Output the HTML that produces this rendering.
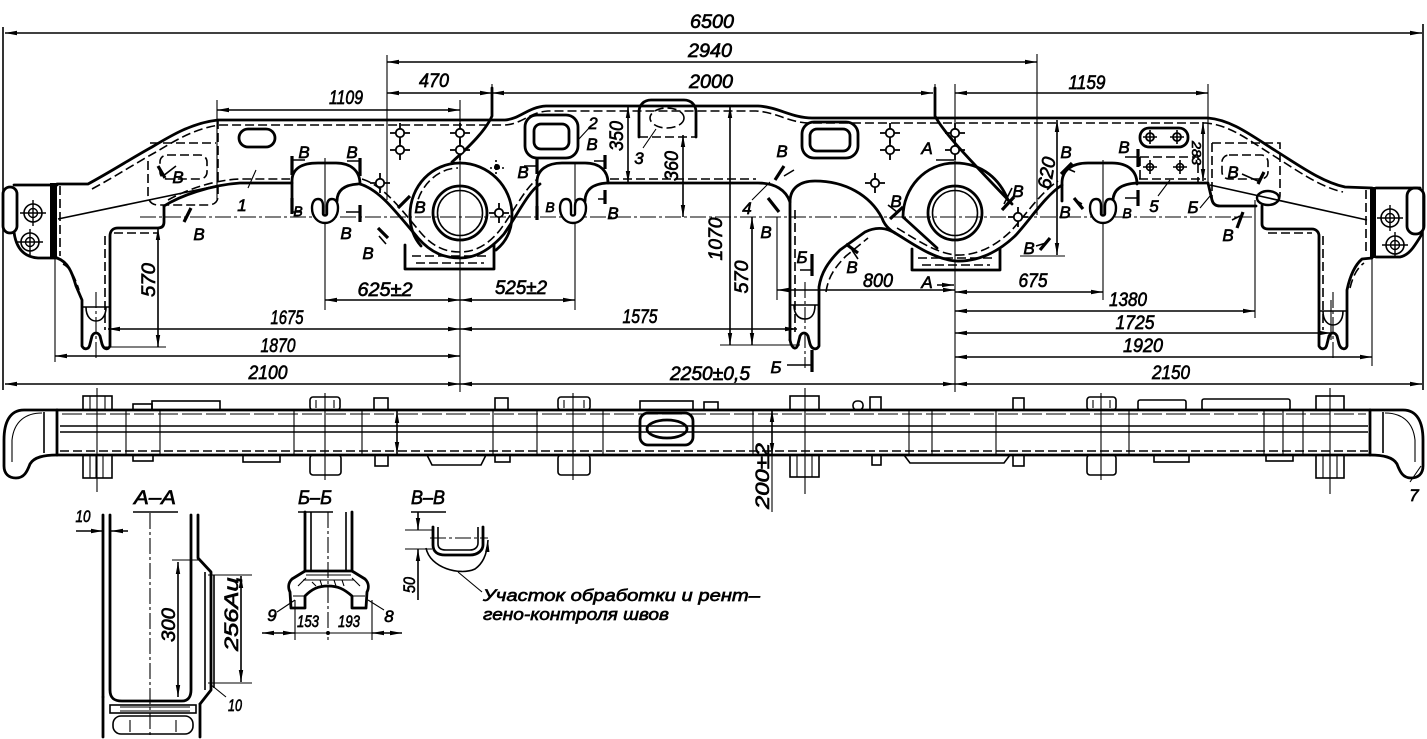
<!DOCTYPE html>
<html><head><meta charset="utf-8"><style>
html,body{margin:0;padding:0;background:#fff}
svg{display:block}
.t{fill:none;stroke:#000;stroke-width:2.8;stroke-linejoin:round;stroke-linecap:round}
.k{fill:none;stroke:#000;stroke-width:3.2;stroke-linecap:butt}
.m{fill:none;stroke:#000;stroke-width:1.6}
.n{fill:none;stroke:#000;stroke-width:1.1}
.d{fill:none;stroke:#000;stroke-width:1.6;stroke-dasharray:9 4}
.c{fill:none;stroke:#000;stroke-width:1.1;stroke-dasharray:16 3 3 3}
.dim{fill:none;stroke:#000;stroke-width:1.6;marker-start:url(#a);marker-end:url(#a)}
.ar{fill:none;stroke:#000;stroke-width:1.6;marker-end:url(#a)}
text{font-family:"Liberation Sans Narrow","Liberation Sans",sans-serif;font-style:italic;font-size:19px;fill:#000;stroke:#000;stroke-width:0.65}
.s{font-size:17px}
</style></head><body>
<svg width="1427" height="739" viewBox="0 0 1427 739" xmlns="http://www.w3.org/2000/svg" xmlns:xlink="http://www.w3.org/1999/xlink">
<defs>
<marker id="a" viewBox="0 0 12 6" refX="12" refY="3" markerWidth="12" markerHeight="6" markerUnits="userSpaceOnUse" orient="auto-start-reverse"><path d="M0 0.8L12 3L0 5.2z"/></marker>
<g id="ch"><circle r="4.2" fill="#fff" stroke="#000" stroke-width="1.8"/><path d="M-10 0H-4.2M4.2 0H10M0-10V-4.2M0 4.2V10" stroke="#000" stroke-width="1.8"/></g>
<g id="ec"><circle r="9" fill="none" stroke="#000" stroke-width="1.6"/><circle r="4.5" fill="none" stroke="#000" stroke-width="1.4"/><path d="M-13 0H13M0-13V13" stroke="#000" stroke-width="1.4"/></g>
<path id="hs" d="M-2 13 L-2 5 C-2 0 -4 -2 -7 -2 C-11 -2 -13 2 -13 7 C-13 16 -7 22 0 22 C7 22 13 16 13 7 C13 2 11 -2 7 -2 C4 -2 2 0 2 5 L2 13 C2 15 -2 15 -2 13 Z" fill="#fff" stroke="#000" stroke-width="2.4"/>
<g id="hook">
<path class="t" d="M57 410 L24 410 C10 410 4 422 4 440 L4 466 C4 474 9 478 16 478 C24 478 27 472 30 464 C34 457 44 455 57 455"/>
<path class="t" d="M57 410V455"/>
<path class="m" d="M44 412V453"/>
<path class="n" d="M42 413 C26 413 14 421 12 440 L12 462"/>
</g>
</defs>
<rect width="1427" height="739" fill="#fff"/>

<!-- ============ TOP DIMENSIONS ============ -->
<path class="m" d="M3 27V390" stroke-width="2"/>
<path class="m" d="M1423 24V390" stroke-width="2"/>
<path class="dim" d="M5 33H1422"/>
<text x="712" y="28" text-anchor="middle" textLength="44" lengthAdjust="spacingAndGlyphs">6500</text>
<path class="dim" d="M387 62H1037"/>
<text x="710" y="57" text-anchor="middle" textLength="44" lengthAdjust="spacingAndGlyphs">2940</text>
<path class="dim" d="M387 93H492"/>
<path class="dim" d="M492 93H933"/>
<text x="434" y="87" text-anchor="middle" textLength="30" lengthAdjust="spacingAndGlyphs">470</text>
<text x="711" y="88" text-anchor="middle" textLength="44" lengthAdjust="spacingAndGlyphs">2000</text>
<path class="dim" d="M217 110H460"/>
<text x="346" y="104" text-anchor="middle" textLength="34" lengthAdjust="spacingAndGlyphs">1109</text>
<path class="dim" d="M955 93H1208"/>
<text x="1087" y="89" text-anchor="middle" textLength="37" lengthAdjust="spacingAndGlyphs">1159</text>

<!-- extension lines -->
<path class="n" d="M387 55V200 M492 84V116 M935 84V116 M1037 54V215 M1208 84V185 M217 100V200 M460 100V392 M955 84V392 M325 158V310 M575 163V310 M1103 160V300 M1255 200V318 M1331 300V340 M1372 258V366 M55 258V362 M105 347H166 M720 345H800 M1020 256H1065 M777 217V300"/>
<path class="c" d="M140 217H1252"/>
<path class="c" d="M96 292V358 M805 282V368 M1333 292V358"/>

<!-- ============ BOTTOM DIMENSIONS ============ -->
<path class="dim" d="M325 300H460"/>
<text x="385" y="296" text-anchor="middle" textLength="55" lengthAdjust="spacingAndGlyphs">625±2</text>
<path class="dim" d="M460 300H575"/>
<text x="521" y="294" text-anchor="middle" textLength="52" lengthAdjust="spacingAndGlyphs">525±2</text>
<path class="dim" d="M108 329H460"/>
<text x="287" y="324" text-anchor="middle" textLength="33" lengthAdjust="spacingAndGlyphs">1675</text>
<path class="dim" d="M460 329H797"/>
<text x="640" y="323" text-anchor="middle" textLength="35" lengthAdjust="spacingAndGlyphs">1575</text>
<path class="dim" d="M55 356H460"/>
<text x="278" y="352" text-anchor="middle" textLength="35" lengthAdjust="spacingAndGlyphs">1870</text>
<path class="dim" d="M5 384H460"/>
<text x="268" y="379" text-anchor="middle" textLength="39" lengthAdjust="spacingAndGlyphs">2100</text>
<path class="dim" d="M460 384H955"/>
<text x="710" y="380" text-anchor="middle" textLength="80" lengthAdjust="spacingAndGlyphs">2250±0,5</text>
<path class="dim" d="M955 384H1422"/>
<text x="1171" y="379" text-anchor="middle" textLength="38" lengthAdjust="spacingAndGlyphs">2150</text>
<path class="dim" d="M955 292H1103"/>
<text x="1033" y="287" text-anchor="middle" textLength="29" lengthAdjust="spacingAndGlyphs">675</text>
<path class="dim" d="M955 311H1255"/>
<text x="1128" y="306" text-anchor="middle" textLength="38" lengthAdjust="spacingAndGlyphs">1380</text>
<path class="dim" d="M955 333H1331"/>
<text x="1135" y="329" text-anchor="middle" textLength="39" lengthAdjust="spacingAndGlyphs">1725</text>
<path class="dim" d="M955 357H1372"/>
<text x="1143" y="352" text-anchor="middle" textLength="40" lengthAdjust="spacingAndGlyphs">1920</text>
<path class="dim" d="M777 290H955"/>
<text x="878" y="287" text-anchor="middle" textLength="30" lengthAdjust="spacingAndGlyphs">800</text>

<!-- vertical dims -->
<path class="dim" d="M158 228V347"/>
<text transform="translate(155,280) rotate(-90)" text-anchor="middle" textLength="34" lengthAdjust="spacingAndGlyphs">570</text>
<path class="dim" d="M730 106V345"/>
<text transform="translate(722,239) rotate(-90)" text-anchor="middle" textLength="43" lengthAdjust="spacingAndGlyphs">1070</text>
<path class="dim" d="M752 217V345"/>
<text transform="translate(748,277) rotate(-90)" text-anchor="middle" textLength="33" lengthAdjust="spacingAndGlyphs">570</text>
<path class="dim" d="M628 106V183"/>
<text transform="translate(623,136) rotate(-90)" text-anchor="middle" textLength="30" lengthAdjust="spacingAndGlyphs">350</text>
<path class="dim" d="M683 135V217"/>
<text transform="translate(678,166) rotate(-90)" text-anchor="middle" textLength="30" lengthAdjust="spacingAndGlyphs">360</text>
<path class="dim" d="M1057 120V255"/>
<text transform="translate(1053,174) rotate(-80)" text-anchor="middle" textLength="32" lengthAdjust="spacingAndGlyphs">620</text>
<path class="dim" d="M1203 122V181"/>
<text transform="translate(1192,153) rotate(90)" text-anchor="middle" style="font-size:13px" textLength="24" lengthAdjust="spacingAndGlyphs">283</text>

<!-- ============ MAIN FRAME (SIDE VIEW) ============ -->
<path class="t" d="M57 184 L88 184 C112 171 132 158 152 147 C172 135 192 123 218 120 L505 120 C520 119 528 107 546 106 L758 106 C778 107 792 118 812 118 L1208 118 C1232 120 1252 136 1276 151 C1300 166 1322 182 1345 187 L1372 188"/>
<path class="d" d="M92 189 C116 176 136 163 156 152 C176 140 196 128 220 125 L505 125 C522 124 530 112 548 111 L756 111 C776 112 790 123 810 123 L1206 123 C1230 125 1250 141 1274 156 C1298 171 1320 187 1343 192"/>

<!-- left end -->
<rect x="50" y="183" width="7" height="76" fill="#000"/>
<path class="d" d="M60 186V256"/>
<path class="t" d="M57 185 L14 185 M14 232 C16 248 24 257 38 258 L57 258"/>
<rect class="t" x="3" y="187" width="14" height="46" rx="7"/>
<use xlink:href="#ec" x="33" y="213"/>
<use xlink:href="#ec" x="30" y="242"/>
<path class="m" d="M58 219 L216 186"/>
<path class="t" d="M57 258 C68 262 72 272 76 286 L82 300 L82 346 C84 350 89 350 90 344 L92 336 C94 332 98 332 100 336 L102 344 C104 350 108 350 110 346 L110 236 C110 231 113 228 118 228 L158 228 C162 228 164 226 164 222 L164 206"/>
<path class="d" d="M63 264 C71 268 75 278 79 290 M105 236V330 M114 233H158"/>
<path class="m" d="M83 307H109 M86 307 C86 318 92 321 96 321 C100 321 106 318 106 307"/>
<path class="t" d="M164 206 C180 196 210 185 240 183 L292 183"/>
<path class="d" d="M168 200 C184 191 212 180 240 179 L290 179"/>
<path class="d" d="M150 143H216 M218 120V196 C218 202 214 205 208 205 L158 205 C152 205 148 201 148 195 L148 160"/>
<rect class="d" x="160" y="155" width="47" height="24" rx="7"/>
<rect class="t" x="239" y="129" width="36" height="18" rx="9"/>
<path class="t" d="M292 201 L292 181 C292 169 301 163 318 163 L336 163 C351 163 360 171 360 184"/>
<path class="t" d="M337 201 C337 192 342 185 358 184"/>
<use xlink:href="#hs" x="325" y="201"/>
<path class="t" d="M360 184 C380 190 396 212 418 238 C432 254 446 258 460 258 C476 258 490 250 504 234 C518 214 528 192 540 184"/>
<path class="d" d="M362 179 C384 186 400 208 421 233 C434 248 447 252 460 252 C474 252 487 246 500 230 C514 211 524 190 536 180"/>
<path class="t" d="M410 215 C410 186 432 163 460 163 C488 163 512 186 512 215 C512 230 506 242 496 250"/>
<path class="t" d="M410 215 C410 228 414 238 421 246"/>
<path class="d" d="M416 212 C416 190 436 168 458 168"/>
<path class="t" d="M492 88 L492 116 C486 130 470 146 452 162"/>
<circle cx="460" cy="213" r="27" fill="none" stroke="#000" stroke-width="2.8"/>
<circle cx="460" cy="213" r="22.5" fill="none" stroke="#000" stroke-width="1.6"/>
<path class="t" d="M405 245 L405 269 L494 269 L494 245"/>
<path class="d" d="M412 256H488 M416 263H484"/>
<use xlink:href="#ch" x="400" y="133"/>
<use xlink:href="#ch" x="400" y="150"/>
<use xlink:href="#ch" x="460" y="133"/>
<use xlink:href="#ch" x="460" y="150"/>
<use xlink:href="#ch" x="380" y="183"/>
<use xlink:href="#ch" x="499" y="213"/>
<use xlink:href="#ch" x="890" y="133"/>
<use xlink:href="#ch" x="890" y="150"/>
<use xlink:href="#ch" x="955" y="133"/>
<use xlink:href="#ch" x="955" y="150"/>
<use xlink:href="#ch" x="875" y="183"/>
<use xlink:href="#ch" x="1018" y="217"/>
<path class="m" d="M496 160V175 M504 168H490" stroke-dasharray="2 2"/>
<circle cx="497" cy="167" r="3" fill="#000"/>
<rect class="t" x="525" y="115" width="53" height="43" rx="12"/>
<rect class="t" x="534" y="124" width="35" height="25" rx="7"/>
<path class="t" d="M537 217 L537 182 C537 170 547 163 562 163 L585 163 C600 163 608 171 608 183"/>
<path class="t" d="M585 201 C585 192 590 184 607 183"/>
<use xlink:href="#hs" x="573" y="201"/>
<path class="t" d="M639 137 L639 112 C639 105 644 100 651 100 L684 100 C691 100 696 105 696 112 L696 137"/>
<path class="d" d="M639 137 H696"/>
<ellipse class="d" cx="667" cy="118" rx="17" ry="10"/>
<path class="t" d="M608 183 L758 183 C775 183 786 190 790 202 L790 340"/>
<path class="d" d="M610 179 L756 179"/>
<path class="t" d="M790 340 C792 350 797 350 798 344 L800 336 C802 332 806 332 808 336 L810 344 C812 350 817 350 819 346 L819 287 C821 273 828 262 840 250 L865 232 C875 227 885 227 895 233"/>
<path class="d" d="M826 292 C828 278 834 268 846 256 L868 238 M795 210V332"/>
<path class="m" d="M791 305H818 M794 305 C794 316 800 319 805 319 C810 319 815 316 815 305"/>
<path class="t" d="M790 202 C790 188 800 181 815 181 C845 181 870 195 882 218 C884 224 888 229 895 233"/>
<rect class="t" x="802" y="122" width="56" height="36" rx="12"/>
<rect class="t" x="810" y="129" width="40" height="22" rx="7"/>
<path class="t" d="M903 217 C903 188 925 163 955 163 C983 163 1000 180 1008 200"/>
<path class="t" d="M903 217 L937 248"/>
<path class="t" d="M935 88 L935 116 C945 135 975 165 1012 204"/>
<circle cx="955" cy="213" r="27" fill="none" stroke="#000" stroke-width="2.8"/>
<circle cx="955" cy="213" r="22.5" fill="none" stroke="#000" stroke-width="1.6"/>
<path class="t" d="M912 249 L912 270 L1000 270 L1000 249"/>
<path class="d" d="M918 258H994 M922 265H990"/>
<path class="t" d="M895 233 C915 245 932 258 955 261 C978 262 998 252 1015 236 C1030 220 1045 196 1062 185"/>
<path class="d" d="M897 228 C917 240 934 252 955 255 C976 256 994 247 1010 232 C1025 216 1040 193 1058 181"/>
<path class="t" d="M1062 201 L1062 183 C1062 170 1072 163 1088 163 L1112 163 C1128 163 1137 171 1137 184"/>
<path class="t" d="M1113 201 C1113 192 1118 184 1137 183"/>
<use xlink:href="#hs" x="1103" y="201"/>
<path class="t" d="M1137 183 L1208 183 L1212 200 C1213 204 1216 206 1220 206 L1256 206"/>
<path class="d" d="M1139 179 L1206 179"/>
<ellipse cx="1268" cy="198" rx="11" ry="7" fill="#fff" stroke="#000" stroke-width="2.4"/>
<path class="t" d="M1262 206 L1262 224 C1262 227 1264 229 1268 229 L1312 229 C1316 229 1319 232 1319 236 L1319 346 C1321 350 1326 350 1327 344 L1329 336 C1331 332 1335 332 1337 336 L1339 344 C1341 350 1346 350 1347 346 L1347 290 C1350 276 1355 265 1362 259 L1372 258"/>
<path class="d" d="M1323 236V330 M1268 233H1312 M1350 288 C1353 276 1357 268 1364 263"/>
<path class="m" d="M1320 311H1346 M1323 311 C1323 322 1329 325 1333 325 C1337 325 1343 322 1343 311"/>
<path class="m" d="M1210 185 L1367 220"/>
<path class="d" d="M1212 143H1280 V195 C1280 201 1276 205 1270 205 M1212 143V200"/>
<rect class="d" x="1222" y="155" width="46" height="24" rx="7"/>
<rect class="t" x="1140" y="128" width="48" height="19" rx="9"/>
<circle cx="1150" cy="137" r="4" fill="#fff" stroke="#000" stroke-width="1.8"/>
<circle cx="1177" cy="137" r="4" fill="#fff" stroke="#000" stroke-width="1.8"/>
<path class="m" d="M1143 137H1157 M1170 137H1184 M1150 130V144 M1177 130V144"/>
<path class="d" d="M1140 157H1198 V182 M1140 157V182"/>
<circle cx="1150" cy="167" r="3.5" fill="#fff" stroke="#000" stroke-width="1.6"/>
<circle cx="1180" cy="167" r="3.5" fill="#fff" stroke="#000" stroke-width="1.6"/>
<path class="m" d="M1143 167H1157 M1173 167H1187 M1150 160V174 M1180 160V174"/>
<rect x="1370" y="187" width="6" height="71" fill="#000"/>
<path class="d" d="M1366 190V255"/>
<path class="t" d="M1376 188 L1420 188 M1376 257 L1400 257 C1410 255 1415 245 1422 234"/>
<rect class="t" x="1407" y="188" width="17" height="46" rx="8"/>
<use xlink:href="#ec" x="1390" y="218"/>
<use xlink:href="#ec" x="1395" y="245"/>

<path class="n" d="M248 188 L256 170 M578 140 L590 127 M643 148 L656 129 M752 200 L770 182 M1158 196 L1170 180 M1200 208 L1210 196"/>
<text x="242" y="211" text-anchor="middle" class="s">1</text>
<text x="593" y="129" text-anchor="middle" class="s">2</text>
<text x="639" y="164" text-anchor="middle" class="s">3</text>
<text x="747" y="214" text-anchor="middle" class="s">4</text>
<text x="1154" y="212" text-anchor="middle" class="s">5</text>

<g class="s">
<text x="178" y="183" text-anchor="middle" class="s">В</text>
<text x="199" y="240" text-anchor="middle" class="s">В</text>
<text x="304" y="158" text-anchor="middle" class="s">В</text>
<text x="352" y="158" text-anchor="middle" class="s">В</text>
<text x="298" y="216" text-anchor="middle" style="font-size:14px">В</text>
<text x="346" y="239" text-anchor="middle" class="s">В</text>
<text x="368" y="259" text-anchor="middle" class="s">В</text>
<text x="420" y="213" text-anchor="middle" class="s">В</text>
<text x="523" y="178" text-anchor="middle" class="s">В</text>
<text x="592" y="150" text-anchor="middle" class="s">В</text>
<text x="550" y="212" text-anchor="middle" style="font-size:14px">В</text>
<text x="613" y="219" text-anchor="middle" class="s">В</text>
<text x="782" y="157" text-anchor="middle" class="s">В</text>
<text x="766" y="238" text-anchor="middle" class="s">В</text>
<text x="852" y="273" text-anchor="middle" class="s">В</text>
<text x="896" y="207" text-anchor="middle" class="s">В</text>
<text x="1018" y="197" text-anchor="middle" class="s">В</text>
<text x="1065" y="218" text-anchor="middle" class="s">В</text>
<text x="1029" y="254" text-anchor="middle" class="s">В</text>
<text x="1066" y="158" text-anchor="middle" class="s">В</text>
<text x="1124" y="153" text-anchor="middle" class="s">В</text>
<text x="1127" y="218" text-anchor="middle" style="font-size:14px">В</text>
<text x="1233" y="178" text-anchor="middle" class="s">В</text>
<text x="1228" y="241" text-anchor="middle" class="s">В</text>
<text x="802" y="263" text-anchor="middle" class="s">Б</text>
<text x="776" y="373" text-anchor="middle" class="s">Б</text>
<text x="1193" y="213" text-anchor="middle" class="s">Б</text>
<text x="927" y="154" text-anchor="middle" class="s">А</text>
<text x="927" y="288" text-anchor="middle" class="s">А</text>
</g>
<path class="k" d="M158 166 L165 178 M292 156V175 M360 158V176 M292 198V214 M360 205V222 M378 228 L388 238 M398 208 L410 196 M537 158V174 M537 206V220 M605 155V169 M605 190V204 M775 180 L784 166 M768 198 L779 212 M846 244 L858 253 M890 219 L903 207 M1002 210 L1014 197 M1040 250 L1050 238 M1061 174 L1072 163 M1138 149V167 M1138 190V206 M1074 198 L1083 209 M1258 184 L1264 172 M1243 212 L1237 228 M812 254V276 M812 350V372 M191 208 L184 222"/>
<path class="ar" d="M176 166 L163 176 M305 160 H293 M347 161 H359 M302 212 H293 M346 212 H359 M386 244 L379 236 M524 166 H538 M594 161 H606 M598 199 H606 M794 170 L784 176 M858 259 L852 250 M888 205 L897 212 M1012 188 L1004 204 M1036 246 L1046 243 M1075 172 L1066 168 M1125 157 H1137 M1125 198 H1137 M1082 204 L1075 200 M1242 174 L1260 182 M1232 220 L1240 216 M800 270 H811 M787 365 H811 M936 160 H954 M937 285 H954"/>

<!-- ============ PLAN VIEW ============ -->
<path class="t" d="M57 410H1370 M57 455H1370"/>
<path class="m" d="M60 426H1368 M60 432H1368"/>
<path class="d" d="M60 451H1368" stroke-width="1.3"/>
<path class="n" d="M62 414H1366" stroke-dasharray="20 4"/>
<path class="n" d="M126 410V455 M160 410V455 M294 410V455 M362 410V455 M493 410V455 M537 410V455 M603 410V455 M753 410V455 M909 410V455 M932 410V455 M996 410V455 M1129 410V455 M1264 410V455 M1283 410V455 M1303 410V455"/>
<use xlink:href="#hook"/>
<use xlink:href="#hook" transform="translate(1427,0) scale(-1,1)"/>
<g class="m">
<rect x="83" y="396" width="29" height="14"/><rect x="83" y="455" width="29" height="23"/>
<rect x="790" y="396" width="29" height="14"/><rect x="790" y="455" width="29" height="22"/>
<rect x="1316" y="396" width="28" height="14"/><rect x="1316" y="455" width="28" height="23"/>
<rect x="310" y="397" width="30" height="13" rx="3"/><rect x="310" y="455" width="31" height="20" rx="3"/>
<rect x="558" y="397" width="32" height="13" rx="3"/><rect x="558" y="455" width="32" height="20" rx="3"/>
<rect x="1087" y="397" width="29" height="13" rx="3"/><rect x="1087" y="455" width="29" height="20" rx="3"/>
<rect x="374" y="398" width="14" height="12"/><rect x="375" y="455" width="13" height="11"/>
<rect x="495" y="398" width="13" height="12"/><rect x="495" y="455" width="15" height="7"/>
<rect x="853" y="401" width="10" height="9" rx="4"/><rect x="870" y="397" width="11" height="13"/>
<rect x="872" y="455" width="9" height="10"/>
<rect x="1013" y="398" width="11" height="12"/><rect x="1013" y="455" width="11" height="11"/>
<rect x="133" y="404" width="19" height="6"/><rect x="152" y="401" width="68" height="9"/>
<rect x="640" y="401" width="53" height="9"/><rect x="704" y="402" width="14" height="8"/>
<rect x="1138" y="400" width="48" height="10" rx="2"/><rect x="1202" y="399" width="88" height="11" rx="2"/>
<rect x="133" y="455" width="20" height="6"/><rect x="243" y="455" width="37" height="7"/>
<path d="M427 455 L432 465 L481 465 L486 455"/>
<path d="M904 455 L910 463 L1004 463 L1010 455"/>
<rect x="1154" y="455" width="35" height="7"/><rect x="1266" y="455" width="27" height="6"/>
</g>
<path class="n" d="M90 455V478 M96 455V478 M103 455V478 M90 396V410 M105 396V410 M797 455V477 M812 455V477 M1323 455V478 M1330 455V478 M1337 455V478 M316 400V408 M334 400V408 M564 400V408 M584 400V408 M1093 400V408 M1110 400V408"/>
<path class="n" d="M97 388V492 M805 388V494 M1330 388V494 M325 393V480 M573 393V480 M1101 393V480"/>
<rect class="t" x="640" y="413" width="53" height="32" rx="8"/>
<ellipse class="t" cx="667" cy="429" rx="20" ry="9"/>
<path class="dim" d="M397 411V454"/>
<path class="n" d="M772 455V512"/>
<path class="dim" d="M772 410V455"/>
<text transform="translate(769,476) rotate(-90)" text-anchor="middle" textLength="66" lengthAdjust="spacingAndGlyphs">200±2</text>
<path class="n" d="M1410 482 L1421 466"/>
<text x="1414" y="501" text-anchor="middle" class="s">7</text>

<!-- ============ SECTION A-A ============ -->
<text x="155" y="504" text-anchor="middle" textLength="42" lengthAdjust="spacingAndGlyphs">А–А</text>
<path class="m" d="M133 512H178" stroke-width="2"/>
<text x="83" y="522" text-anchor="middle" class="s" textLength="15" lengthAdjust="spacingAndGlyphs">10</text>
<path class="ar" d="M76 531 H103"/>
<path class="ar" d="M128 531 H111"/>
<path class="t" d="M103 515V697 M110 515V690 C110 698 114 701 122 701 L182 701 C188 701 191 697 191 690 L191 515 M198 515 L198 558 L211 572 L211 690 L200 704"/>
<path class="m" d="M205 572V690 M214 575V688"/>
<path class="t" d="M103 697V737 M200 704V737"/>
<rect class="m" x="110" y="705" width="86" height="8"/>
<rect class="m" x="113" y="716" width="80" height="18" rx="8"/>
<path class="n" d="M120 707H190 M120 711H190 M130 720V732 M176 720V732"/>
<path class="c" d="M150 513V737"/>
<path class="n" d="M172 560H200"/>
<path class="dim" d="M178 562V697"/>
<text transform="translate(175,625) rotate(-90)" text-anchor="middle" textLength="34" lengthAdjust="spacingAndGlyphs">300</text>
<path class="n" d="M208 575H252 M208 683H252"/>
<path class="dim" d="M241 576V682"/>
<text transform="translate(238,614) rotate(-90)" text-anchor="middle" textLength="74" lengthAdjust="spacingAndGlyphs">256Ац</text>
<path class="n" d="M226 697 L210 684"/>
<text x="235" y="711" text-anchor="middle" class="s" textLength="14" lengthAdjust="spacingAndGlyphs">10</text>

<!-- ============ SECTION Б-Б ============ -->
<text x="315" y="504" text-anchor="middle" textLength="34" lengthAdjust="spacingAndGlyphs">Б–Б</text>
<path class="m" d="M298 512H333" stroke-width="2"/>
<path class="t" d="M305 512V571 M352 512V571"/>
<path class="m" d="M311 512V570 M346 512V570"/>
<path class="c" d="M328 512V640"/>
<path class="t" d="M305 571 L292 579 C288 583 288 588 290 592 L291 608 L305 608 L305 596 C312 589 318 586 328 586 C338 586 344 589 352 596 L352 608 L366 608 L367 592 C369 588 369 583 365 579 L352 571 Z"/>
<path class="n" d="M306 575H351 M303 580H354 M298 586 L306 578 M360 586 L352 578 M293 596H304 M353 596H365 M312 582 L316 586 M320 580 L322 586 M334 580 L336 586 M342 580 L344 586"/>
<path class="n" d="M295 600V640 M372 600V640"/>
<path class="dim" d="M262 633H295"/>
<path class="n" d="M295 633H372"/>
<path class="dim" d="M402 633H372"/>
<circle cx="328" cy="633" r="2" fill="#000"/>
<path class="n" d="M277 612 L295 600 M384 610 L368 600"/>
<text x="272" y="621" text-anchor="middle" class="s">9</text>
<text x="308" y="627" text-anchor="middle" class="s" textLength="22" lengthAdjust="spacingAndGlyphs">153</text>
<text x="349" y="627" text-anchor="middle" class="s" textLength="22" lengthAdjust="spacingAndGlyphs">193</text>
<text x="389" y="622" text-anchor="middle" class="s">8</text>

<!-- ============ SECTION В-В ============ -->
<text x="428" y="504" text-anchor="middle" textLength="34" lengthAdjust="spacingAndGlyphs">В–В</text>
<path class="m" d="M411 512H446" stroke-width="2"/>
<path class="t" d="M433 527 L433 545 C433 552 438 555 445 555 L470 555 C478 555 483 550 483 545 L483 527"/>
<path class="m" d="M438 527 L438 544 C438 548 441 550 446 550 L470 550 C475 550 478 547 478 543 L478 527"/>
<path class="c" d="M430 538H488"/>
<path class="ar" d="M426 548 C430 568 460 576 475 569 C482 564 487 556 488 540"/>
<path class="n" d="M405 530H432 M405 549H432"/>
<path class="ar" d="M418 512 V530"/>
<path class="ar" d="M418 600 V549"/>
<text transform="translate(415,585) rotate(-90)" text-anchor="middle" class="s" textLength="16" lengthAdjust="spacingAndGlyphs">50</text>
<path class="n" d="M458 572 L482 592"/>
<text x="483" y="601" class="s" textLength="277" lengthAdjust="spacingAndGlyphs">Участок обработки и рент–</text>
<text x="483" y="620" class="s" textLength="186" lengthAdjust="spacingAndGlyphs">гено-контроля швов</text>
</svg>
</body></html>
